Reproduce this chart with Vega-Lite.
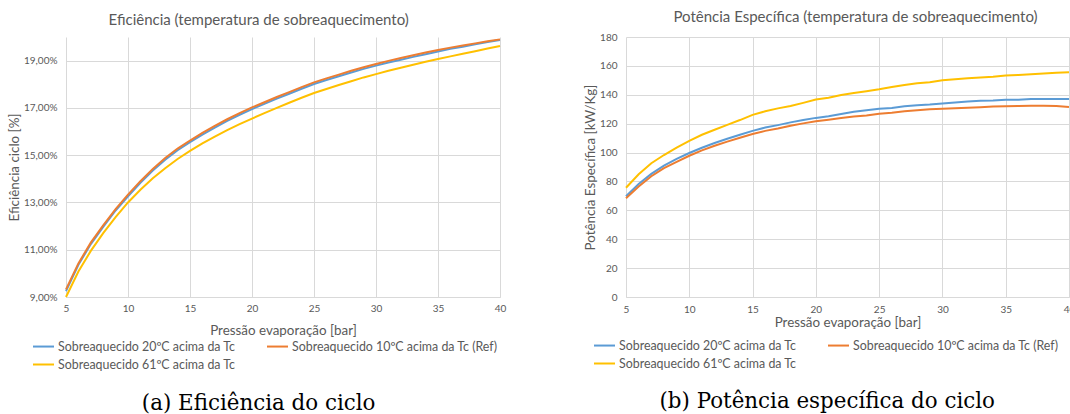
{
  "$schema": "https://vega.github.io/schema/vega-lite/v6.json",
  "padding": {"left": 7, "top": 9, "right": 0, "bottom": 0},
  "background": "white",
  "data": {"values": [
    {"p":5,"serie":"Sobreaquecido 20ºC acima da Tc","eff":9.25,"pot":69.8},
    {"p":6,"serie":"Sobreaquecido 20ºC acima da Tc","eff":10.36,"pot":78.2},
    {"p":7,"serie":"Sobreaquecido 20ºC acima da Tc","eff":11.24,"pot":85.2},
    {"p":8,"serie":"Sobreaquecido 20ºC acima da Tc","eff":11.97,"pot":91.0},
    {"p":9,"serie":"Sobreaquecido 20ºC acima da Tc","eff":12.66,"pot":95.6},
    {"p":10,"serie":"Sobreaquecido 20ºC acima da Tc","eff":13.26,"pot":99.7},
    {"p":11,"serie":"Sobreaquecido 20ºC acima da Tc","eff":13.83,"pot":103.3},
    {"p":12,"serie":"Sobreaquecido 20ºC acima da Tc","eff":14.35,"pot":106.6},
    {"p":13,"serie":"Sobreaquecido 20ºC acima da Tc","eff":14.81,"pot":109.6},
    {"p":14,"serie":"Sobreaquecido 20ºC acima da Tc","eff":15.21,"pot":112.3},
    {"p":15,"serie":"Sobreaquecido 20ºC acima da Tc","eff":15.55,"pot":115.0},
    {"p":16,"serie":"Sobreaquecido 20ºC acima da Tc","eff":15.87,"pot":117.3},
    {"p":17,"serie":"Sobreaquecido 20ºC acima da Tc","eff":16.17,"pot":119.0},
    {"p":18,"serie":"Sobreaquecido 20ºC acima da Tc","eff":16.45,"pot":120.9},
    {"p":19,"serie":"Sobreaquecido 20ºC acima da Tc","eff":16.71,"pot":122.5},
    {"p":20,"serie":"Sobreaquecido 20ºC acima da Tc","eff":16.95,"pot":124.0},
    {"p":21,"serie":"Sobreaquecido 20ºC acima da Tc","eff":17.17,"pot":125.2},
    {"p":22,"serie":"Sobreaquecido 20ºC acima da Tc","eff":17.39,"pot":126.7},
    {"p":23,"serie":"Sobreaquecido 20ºC acima da Tc","eff":17.6,"pot":128.3},
    {"p":24,"serie":"Sobreaquecido 20ºC acima da Tc","eff":17.81,"pot":129.3},
    {"p":25,"serie":"Sobreaquecido 20ºC acima da Tc","eff":18.01,"pot":130.4},
    {"p":26,"serie":"Sobreaquecido 20ºC acima da Tc","eff":18.18,"pot":130.9},
    {"p":27,"serie":"Sobreaquecido 20ºC acima da Tc","eff":18.34,"pot":132.1},
    {"p":28,"serie":"Sobreaquecido 20ºC acima da Tc","eff":18.5,"pot":132.8},
    {"p":29,"serie":"Sobreaquecido 20ºC acima da Tc","eff":18.65,"pot":133.2},
    {"p":30,"serie":"Sobreaquecido 20ºC acima da Tc","eff":18.79,"pot":133.9},
    {"p":31,"serie":"Sobreaquecido 20ºC acima da Tc","eff":18.92,"pot":134.6},
    {"p":32,"serie":"Sobreaquecido 20ºC acima da Tc","eff":19.04,"pot":135.3},
    {"p":33,"serie":"Sobreaquecido 20ºC acima da Tc","eff":19.16,"pot":135.8},
    {"p":34,"serie":"Sobreaquecido 20ºC acima da Tc","eff":19.27,"pot":136.0},
    {"p":35,"serie":"Sobreaquecido 20ºC acima da Tc","eff":19.39,"pot":136.5},
    {"p":36,"serie":"Sobreaquecido 20ºC acima da Tc","eff":19.5,"pot":136.6},
    {"p":37,"serie":"Sobreaquecido 20ºC acima da Tc","eff":19.59,"pot":137.0},
    {"p":38,"serie":"Sobreaquecido 20ºC acima da Tc","eff":19.69,"pot":137.0},
    {"p":39,"serie":"Sobreaquecido 20ºC acima da Tc","eff":19.79,"pot":137.0},
    {"p":40,"serie":"Sobreaquecido 20ºC acima da Tc","eff":19.87,"pot":137.0},
    {"p":5,"serie":"Sobreaquecido 10ºC acima da Tc (Ref)","eff":9.32,"pot":68.4},
    {"p":6,"serie":"Sobreaquecido 10ºC acima da Tc (Ref)","eff":10.42,"pot":76.5},
    {"p":7,"serie":"Sobreaquecido 10ºC acima da Tc (Ref)","eff":11.3,"pot":83.6},
    {"p":8,"serie":"Sobreaquecido 10ºC acima da Tc (Ref)","eff":12.03,"pot":89.2},
    {"p":9,"serie":"Sobreaquecido 10ºC acima da Tc (Ref)","eff":12.72,"pot":93.6},
    {"p":10,"serie":"Sobreaquecido 10ºC acima da Tc (Ref)","eff":13.33,"pot":97.8},
    {"p":11,"serie":"Sobreaquecido 10ºC acima da Tc (Ref)","eff":13.9,"pot":101.5},
    {"p":12,"serie":"Sobreaquecido 10ºC acima da Tc (Ref)","eff":14.42,"pot":104.7},
    {"p":13,"serie":"Sobreaquecido 10ºC acima da Tc (Ref)","eff":14.88,"pot":107.6},
    {"p":14,"serie":"Sobreaquecido 10ºC acima da Tc (Ref)","eff":15.28,"pot":110.3},
    {"p":15,"serie":"Sobreaquecido 10ºC acima da Tc (Ref)","eff":15.62,"pot":112.9},
    {"p":16,"serie":"Sobreaquecido 10ºC acima da Tc (Ref)","eff":15.94,"pot":115.0},
    {"p":17,"serie":"Sobreaquecido 10ºC acima da Tc (Ref)","eff":16.24,"pot":116.6},
    {"p":18,"serie":"Sobreaquecido 10ºC acima da Tc (Ref)","eff":16.52,"pot":118.6},
    {"p":19,"serie":"Sobreaquecido 10ºC acima da Tc (Ref)","eff":16.78,"pot":120.2},
    {"p":20,"serie":"Sobreaquecido 10ºC acima da Tc (Ref)","eff":17.02,"pot":121.6},
    {"p":21,"serie":"Sobreaquecido 10ºC acima da Tc (Ref)","eff":17.24,"pot":122.7},
    {"p":22,"serie":"Sobreaquecido 10ºC acima da Tc (Ref)","eff":17.46,"pot":123.9},
    {"p":23,"serie":"Sobreaquecido 10ºC acima da Tc (Ref)","eff":17.67,"pot":124.9},
    {"p":24,"serie":"Sobreaquecido 10ºC acima da Tc (Ref)","eff":17.88,"pot":125.6},
    {"p":25,"serie":"Sobreaquecido 10ºC acima da Tc (Ref)","eff":18.08,"pot":126.9},
    {"p":26,"serie":"Sobreaquecido 10ºC acima da Tc (Ref)","eff":18.25,"pot":127.6},
    {"p":27,"serie":"Sobreaquecido 10ºC acima da Tc (Ref)","eff":18.41,"pot":128.6},
    {"p":28,"serie":"Sobreaquecido 10ºC acima da Tc (Ref)","eff":18.57,"pot":129.3},
    {"p":29,"serie":"Sobreaquecido 10ºC acima da Tc (Ref)","eff":18.72,"pot":130.0},
    {"p":30,"serie":"Sobreaquecido 10ºC acima da Tc (Ref)","eff":18.86,"pot":130.3},
    {"p":31,"serie":"Sobreaquecido 10ºC acima da Tc (Ref)","eff":18.99,"pot":130.7},
    {"p":32,"serie":"Sobreaquecido 10ºC acima da Tc (Ref)","eff":19.11,"pot":131.1},
    {"p":33,"serie":"Sobreaquecido 10ºC acima da Tc (Ref)","eff":19.23,"pot":131.4},
    {"p":34,"serie":"Sobreaquecido 10ºC acima da Tc (Ref)","eff":19.34,"pot":131.8},
    {"p":35,"serie":"Sobreaquecido 10ºC acima da Tc (Ref)","eff":19.45,"pot":132.1},
    {"p":36,"serie":"Sobreaquecido 10ºC acima da Tc (Ref)","eff":19.55,"pot":132.3},
    {"p":37,"serie":"Sobreaquecido 10ºC acima da Tc (Ref)","eff":19.64,"pot":132.4},
    {"p":38,"serie":"Sobreaquecido 10ºC acima da Tc (Ref)","eff":19.73,"pot":132.4},
    {"p":39,"serie":"Sobreaquecido 10ºC acima da Tc (Ref)","eff":19.82,"pot":132.2},
    {"p":40,"serie":"Sobreaquecido 10ºC acima da Tc (Ref)","eff":19.9,"pot":131.6},
    {"p":5,"serie":"Sobreaquecido 61ºC acima da Tc","eff":9.0,"pot":75.6},
    {"p":6,"serie":"Sobreaquecido 61ºC acima da Tc","eff":10.08,"pot":85.0},
    {"p":7,"serie":"Sobreaquecido 61ºC acima da Tc","eff":10.95,"pot":92.6},
    {"p":8,"serie":"Sobreaquecido 61ºC acima da Tc","eff":11.7,"pot":98.3},
    {"p":9,"serie":"Sobreaquecido 61ºC acima da Tc","eff":12.38,"pot":103.4},
    {"p":10,"serie":"Sobreaquecido 61ºC acima da Tc","eff":13.0,"pot":108.1},
    {"p":11,"serie":"Sobreaquecido 61ºC acima da Tc","eff":13.54,"pot":112.3},
    {"p":12,"serie":"Sobreaquecido 61ºC acima da Tc","eff":14.02,"pot":115.8},
    {"p":13,"serie":"Sobreaquecido 61ºC acima da Tc","eff":14.45,"pot":119.2},
    {"p":14,"serie":"Sobreaquecido 61ºC acima da Tc","eff":14.84,"pot":122.5},
    {"p":15,"serie":"Sobreaquecido 61ºC acima da Tc","eff":15.18,"pot":126.1},
    {"p":16,"serie":"Sobreaquecido 61ºC acima da Tc","eff":15.5,"pot":128.6},
    {"p":17,"serie":"Sobreaquecido 61ºC acima da Tc","eff":15.79,"pot":130.6},
    {"p":18,"serie":"Sobreaquecido 61ºC acima da Tc","eff":16.06,"pot":132.2},
    {"p":19,"serie":"Sobreaquecido 61ºC acima da Tc","eff":16.31,"pot":134.4},
    {"p":20,"serie":"Sobreaquecido 61ºC acima da Tc","eff":16.55,"pot":136.7},
    {"p":21,"serie":"Sobreaquecido 61ºC acima da Tc","eff":16.78,"pot":138.0},
    {"p":22,"serie":"Sobreaquecido 61ºC acima da Tc","eff":17.0,"pot":139.8},
    {"p":23,"serie":"Sobreaquecido 61ºC acima da Tc","eff":17.22,"pot":141.2},
    {"p":24,"serie":"Sobreaquecido 61ºC acima da Tc","eff":17.43,"pot":142.5},
    {"p":25,"serie":"Sobreaquecido 61ºC acima da Tc","eff":17.63,"pot":143.8},
    {"p":26,"serie":"Sobreaquecido 61ºC acima da Tc","eff":17.8,"pot":145.4},
    {"p":27,"serie":"Sobreaquecido 61ºC acima da Tc","eff":17.97,"pot":146.8},
    {"p":28,"serie":"Sobreaquecido 61ºC acima da Tc","eff":18.13,"pot":148.0},
    {"p":29,"serie":"Sobreaquecido 61ºC acima da Tc","eff":18.29,"pot":148.6},
    {"p":30,"serie":"Sobreaquecido 61ºC acima da Tc","eff":18.43,"pot":150.0},
    {"p":31,"serie":"Sobreaquecido 61ºC acima da Tc","eff":18.57,"pot":150.8},
    {"p":32,"serie":"Sobreaquecido 61ºC acima da Tc","eff":18.7,"pot":151.5},
    {"p":33,"serie":"Sobreaquecido 61ºC acima da Tc","eff":18.83,"pot":151.9},
    {"p":34,"serie":"Sobreaquecido 61ºC acima da Tc","eff":18.95,"pot":152.4},
    {"p":35,"serie":"Sobreaquecido 61ºC acima da Tc","eff":19.07,"pot":153.3},
    {"p":36,"serie":"Sobreaquecido 61ºC acima da Tc","eff":19.18,"pot":153.7},
    {"p":37,"serie":"Sobreaquecido 61ºC acima da Tc","eff":19.29,"pot":154.2},
    {"p":38,"serie":"Sobreaquecido 61ºC acima da Tc","eff":19.4,"pot":154.7},
    {"p":39,"serie":"Sobreaquecido 61ºC acima da Tc","eff":19.51,"pot":155.3},
    {"p":40,"serie":"Sobreaquecido 61ºC acima da Tc","eff":19.62,"pot":155.6}
  ]},
  "spacing": 77,
  "hconcat": [
    {
      "title": {"text": "(a) Eficiência do ciclo", "orient": "bottom", "anchor": "middle", "font": "DejaVu Serif", "fontSize": 21.4, "fontWeight": "normal", "color": "#000000", "offset": 22, "dx": 2},
      "vconcat": [
        {
          "width": 434,
          "height": 260,
          "title": {"text": "Eficiência (temperatura de sobreaquecimento)", "anchor": "middle", "frame": "bounds", "dx": 2, "offset": 7.5, "font": "Lato", "fontSize": 15, "fontWeight": "normal", "color": "#595959"},
          "mark": {"type": "line", "strokeWidth": 2},
          "encoding": {
            "x": {"field": "p", "type": "quantitative", "scale": {"domain": [5, 40], "nice": false, "zero": false},
                  "axis": {"values": [5, 10, 15, 20, 25, 30, 35, 40], "title": "Pressão evaporação [bar]", "titlePadding": 10, "labelPadding": 6, "labelFlush": false}},
            "y": {"field": "eff", "type": "quantitative", "scale": {"domain": [9, 20], "nice": false, "zero": false},
                  "axis": {"values": [9, 11, 13, 15, 17, 19], "labelExpr": "replace(format(datum.value, '.2f'), '.', ',') + '%'", "title": "Eficiência ciclo [%]", "domain": false, "titlePadding": 2, "labelPadding": 9}},
            "color": {"field": "serie", "type": "nominal",
                      "scale": {"domain": ["Sobreaquecido 20ºC acima da Tc", "Sobreaquecido 10ºC acima da Tc (Ref)", "Sobreaquecido 61ºC acima da Tc"], "range": ["#5B9BD5", "#ED7D31", "#FFC000"]},
                      "legend": {"orient": "none", "legendX": -34, "legendY": 298, "direction": "horizontal", "columns": 2, "title": null}}
          }
        }
      ]
    },
    {
      "title": {"text": "(b) Potência específica do ciclo", "orient": "bottom", "anchor": "middle", "font": "DejaVu Serif", "fontSize": 21.4, "fontWeight": "normal", "color": "#000000", "offset": 21, "dx": -2},
      "vconcat": [
        {
          "width": 443,
          "height": 260,
          "title": {"text": "Potência Específica (temperatura de sobreaquecimento)", "anchor": "middle", "frame": "group", "dx": 8, "offset": 7.5, "font": "Lato", "fontSize": 15, "fontWeight": "normal", "color": "#595959"},
          "mark": {"type": "line", "strokeWidth": 2},
          "encoding": {
            "x": {"field": "p", "type": "quantitative", "scale": {"domain": [5, 40], "nice": false, "zero": false},
                  "axis": {"values": [5, 10, 15, 20, 25, 30, 35, 40], "title": "Pressão evaporação [bar]", "titlePadding": 1.5, "labelPadding": 7, "labelFlush": false}},
            "y": {"field": "pot", "type": "quantitative", "scale": {"domain": [0, 180], "nice": false},
                  "axis": {"values": [0, 20, 40, 60, 80, 100, 120, 140, 160, 180], "title": "Potência Específica [kW/Kg]", "domain": false, "titlePadding": 2, "labelPadding": 9}},
            "color": {"field": "serie", "type": "nominal",
                      "scale": {"domain": ["Sobreaquecido 20ºC acima da Tc", "Sobreaquecido 10ºC acima da Tc (Ref)", "Sobreaquecido 61ºC acima da Tc"], "range": ["#5B9BD5", "#ED7D31", "#FFC000"]},
                      "legend": {"orient": "none", "legendX": -33, "legendY": 297, "direction": "horizontal", "columns": 2, "title": null}}
          }
        }
      ]
    }
  ],
  "resolve": {"scale": {"color": "independent"}, "legend": {"color": "independent"}},
  "config": {
    "view": {"stroke": null},
    "axis": {"labelFont": "Lato", "titleFont": "Lato", "labelColor": "#595959", "titleColor": "#595959", "labelFontSize": 10, "titleFontSize": 13.4, "titleFontWeight": "normal", "gridColor": "#d9d9d9", "gridWidth": 1, "domainColor": "#d9d9d9", "ticks": false},
    "legend": {"labelFont": "Lato", "labelFontSize": 12.4, "labelColor": "#595959", "symbolType": "stroke", "symbolSize": 441, "symbolStrokeWidth": 2, "labelOffset": 3, "columnPadding": 27, "rowPadding": -4, "labelLimit": 400}
  }
}
